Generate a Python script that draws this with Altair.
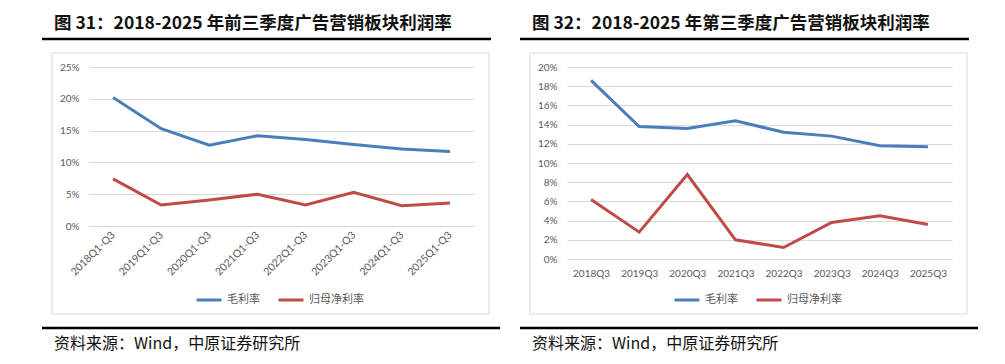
import altair as alt
import pandas as pd

periods_a = ["2018Q1-Q3", "2019Q1-Q3", "2020Q1-Q3", "2021Q1-Q3",
             "2022Q1-Q3", "2023Q1-Q3", "2024Q1-Q3", "2025Q1-Q3"]
gross_a = [20.2, 15.3, 12.7, 14.2, 13.6, 12.8, 12.1, 11.7]
net_a = [7.4, 3.3, 4.1, 5.0, 3.3, 5.3, 3.2, 3.6]

periods_b = ["2018Q3", "2019Q3", "2020Q3", "2021Q3",
             "2022Q3", "2023Q3", "2024Q3", "2025Q3"]
gross_b = [18.6, 13.8, 13.6, 14.4, 13.2, 12.8, 11.8, 11.7]
net_b = [6.2, 2.8, 8.8, 2.0, 1.2, 3.8, 4.5, 3.6]

series = ["毛利率", "归母净利率"]
colors = ["#4A7EBB", "#BE4B48"]
title_a = "图 31：2018-2025 年前三季度广告营销板块利润率"
title_b = "图 32：2018-2025 年第三季度广告营销板块利润率"
source = "资料来源：Wind，中原证券研究所"

W = 385
GRID = "#D9D9D9"
LBL = "#595959"


def panel(periods, gross, net, title, ymax, ystep, rotate, height):
    rows = []
    for p, g, n in zip(periods, gross, net):
        rows.append({"period": p, "series": series[0], "value": g})
        rows.append({"period": p, "series": series[1], "value": n})
    df = pd.DataFrame(rows)

    if rotate:
        xaxis = alt.Axis(title=None, labelAngle=315, labelAlign="right",
                         labelBaseline="middle", labelPadding=7, domain=False,
                         ticks=False, grid=False, labelColor=LBL,
                         labelFont="Lato", labelFontSize=10.5)
    else:
        xaxis = alt.Axis(title=None, labelAngle=0, labelPadding=9,
                         domain=False, ticks=False, grid=False,
                         labelColor=LBL, labelFont="Lato", labelFontSize=10)

    lines = alt.Chart(df).mark_line(strokeWidth=3).encode(
        x=alt.X("period:N", sort=periods,
                scale=alt.Scale(type="point", padding=0.5), axis=xaxis),
        y=alt.Y("value:Q", scale=alt.Scale(domain=[0, ymax], nice=False),
                axis=alt.Axis(title=None, values=list(range(0, ymax + 1, ystep)),
                              labelExpr="datum.value + '%'", grid=True,
                              gridColor=GRID, domain=False, ticks=False,
                              labelPadding=10, labelColor=LBL,
                              labelFont="Lato", labelFontSize=10)),
        color=alt.Color("series:N",
                        scale=alt.Scale(domain=series, range=colors),
                        legend=alt.Legend(title=None, orient="none",
                                          legendX=106, legendY=219,
                                          direction="horizontal",
                                          symbolType="stroke", symbolSize=625,
                                          symbolStrokeWidth=3,
                                          labelFont="Noto Sans CJK SC",
                                          labelFontSize=11, labelColor=LBL,
                                          labelOffset=4, columnPadding=12,
                                          padding=0)),
        order=alt.Order("series:N"),
    )

    one = pd.DataFrame({"k": [0]})
    box = alt.Chart(one).mark_rect(filled=False, stroke=GRID, strokeWidth=1).encode(
        x=alt.value(-37), x2=alt.value(400), y=alt.value(-14), y2=alt.value(247))
    head = alt.Chart(one).mark_text(text=title, align="left", baseline="middle",
                                    font="Noto Sans CJK SC", fontSize=17.5,
                                    fontWeight="bold", color="#111111").encode(
        x=alt.value(-35), y=alt.value(-43))
    rule_top = alt.Chart(one).mark_rule(strokeWidth=2.5, color="#000000").encode(
        x=alt.value(-47), x2=alt.value(402), y=alt.value(-28))
    rule_bot = alt.Chart(one).mark_rule(strokeWidth=2.5, color="#000000").encode(
        x=alt.value(-47), x2=alt.value(411), y=alt.value(261))
    src = alt.Chart(one).mark_text(text=source, align="left", baseline="middle",
                                   font="Noto Sans CJK SC", fontSize=16,
                                   color="#111111").encode(
        x=alt.value(-35), y=alt.value(277))

    return alt.layer(box, lines, head, rule_top, rule_bot, src).properties(
        width=W, height=height)


left = panel(periods_a, gross_a, net_a, title_a, 25, 5, True, 159)
right = panel(periods_b, gross_b, net_b, title_b, 20, 2, False, 192)

chart = alt.hconcat(left, right, spacing=16).resolve_scale(
    color="independent", x="independent", y="independent"
).resolve_legend(color="independent").properties(
    padding={"left": 32, "top": 7, "right": 0, "bottom": 10},
    background="white",
).configure_view(strokeWidth=0)

chart.save("out.html", embed_options={"renderer": "svg", "actions": False})
